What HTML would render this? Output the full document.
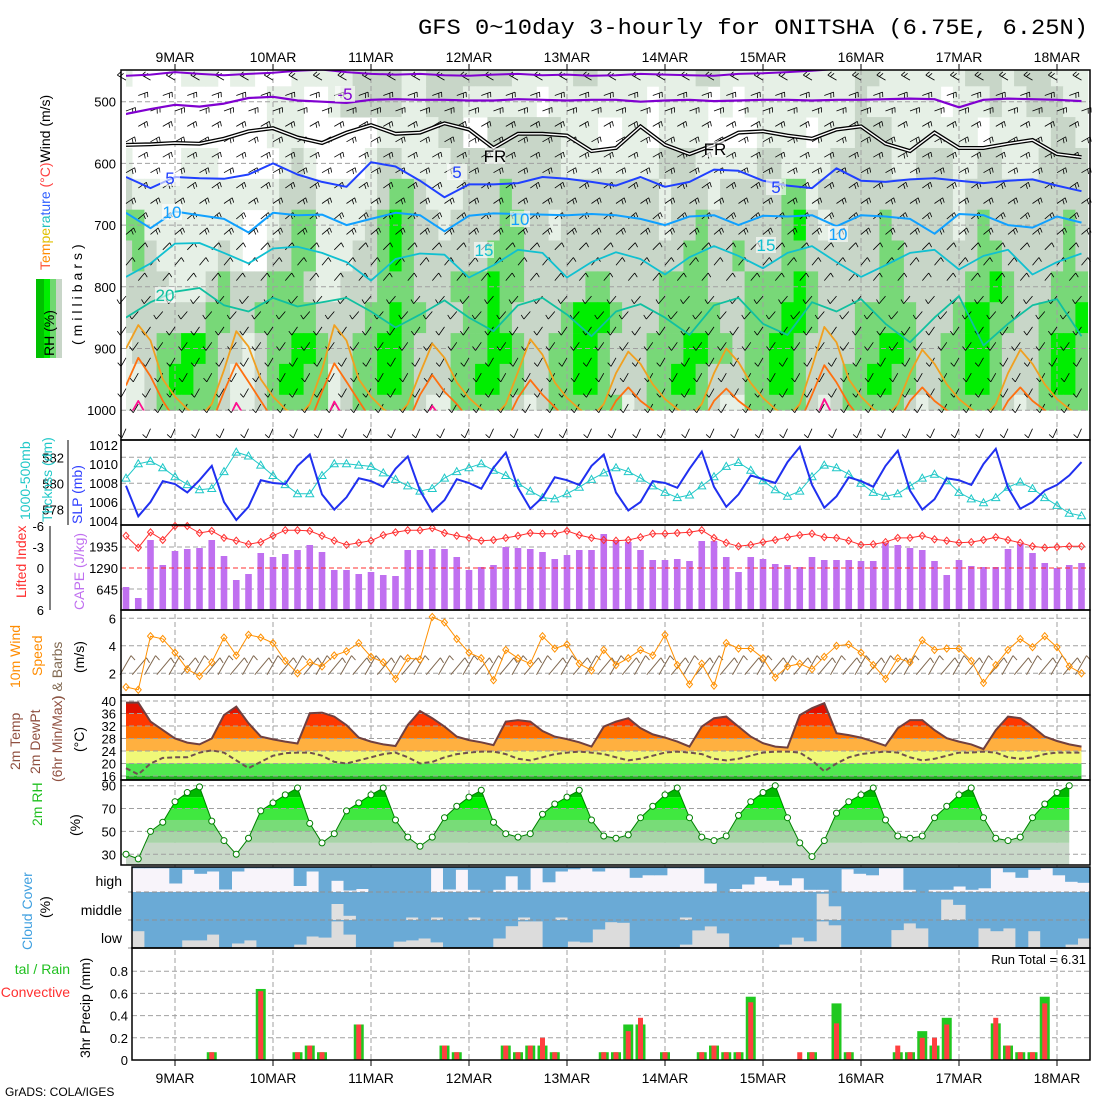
<!DOCTYPE html>
<html><head><meta charset="utf-8"><style>
html,body{margin:0;padding:0;background:#fff;}
svg{display:block;font-family:"Liberation Sans",sans-serif;}
</style></head><body>
<svg id="chart" xmlns="http://www.w3.org/2000/svg" width="1100" height="1100" viewBox="0 0 1100 1100">
<rect x="0" y="0" width="1100" height="1100" fill="#fff"/>
<text x="1088" y="34" text-anchor="end" font-family="Liberation Mono, monospace" font-size="22" textLength="670" lengthAdjust="spacingAndGlyphs">GFS 0~10day 3-hourly for ONITSHA (6.75E, 6.25N)</text>
<text x="5" y="1096" font-size="12">GrADS: COLA/IGES</text>
<g id="layer"></g>
<g font-size="13">
<text transform="translate(50,270) rotate(-90)" font-size="14"><tspan fill="#ff5030">T</tspan><tspan fill="#ff8c00">em</tspan><tspan fill="#e0c000">pe</tspan><tspan fill="#20c0c0">ra</tspan><tspan fill="#3060ff">ture</tspan><tspan fill="#ff4040"> (°C)</tspan><tspan fill="#000">Wind (m/s)</tspan></text>
<text transform="translate(82,345) rotate(-90)" font-size="14" letter-spacing="4">(millibars)</text>
<rect x="36" y="279" width="8" height="79" fill="#00c000"/>
<rect x="44" y="279" width="6" height="79" fill="#00ee00"/>
<rect x="50" y="279" width="6" height="79" fill="#70d870"/>
<rect x="56" y="279" width="6" height="79" fill="#c8d6c8"/>
<text transform="translate(54,356) rotate(-90)" font-size="14">RH (%)</text>
<text transform="translate(30,520) rotate(-90)" font-size="14" fill="#20c8c8">1000-500mb</text>
<text transform="translate(52,522) rotate(-90)" font-size="14" fill="#20c8c8">Thcknss (dm)</text>
<text transform="translate(82,524) rotate(-90)" font-size="14" fill="#3040ff">SLP (mb)</text>
<text transform="translate(26,598) rotate(-90)" font-size="14" fill="#ff3030">Lifted Index</text>
<text transform="translate(84,610) rotate(-90)" font-size="14" fill="#c070f0">CAPE (J/kg)</text>
<text transform="translate(20,688) rotate(-90)" font-size="14" fill="#ff8c00">10m Wind</text>
<text transform="translate(42,676) rotate(-90)" font-size="14" fill="#ff8c00">Speed</text>
<text transform="translate(62,700) rotate(-90)" font-size="14" fill="#806850">) &amp; Barbs</text>
<text transform="translate(84,673) rotate(-90)" font-size="14">(m/s)</text>
<text transform="translate(20,770) rotate(-90)" font-size="14" fill="#905040">2m Temp</text>
<text transform="translate(40,774) rotate(-90)" font-size="14" fill="#905040">2m DewPt</text>
<text transform="translate(62,782) rotate(-90)" font-size="14" fill="#905040">(6hr Min/Max)</text>
<text transform="translate(84,752) rotate(-90)" font-size="14">(°C)</text>
<text transform="translate(42,826) rotate(-90)" font-size="14" fill="#20c020">2m RH</text>
<text transform="translate(80,836) rotate(-90)" font-size="14">(%)</text>
<text transform="translate(32,950) rotate(-90)" font-size="14" fill="#40a0e0">Cloud Cover</text>
<text transform="translate(50,918) rotate(-90)" font-size="14">(%)</text>
<text x="122" y="886" text-anchor="end" font-size="14">high</text>
<text x="122" y="915" text-anchor="end" font-size="14">middle</text>
<text x="122" y="943" text-anchor="end" font-size="14">low</text>
<text x="70" y="974" text-anchor="end" font-size="14" fill="#20c020">tal / Rain</text>
<text x="70" y="997" text-anchor="end" font-size="14" fill="#ff3030">Convective</text>
<text transform="translate(90,1058) rotate(-90)" font-size="14">3hr Precip (mm)</text>
<text x="1086" y="964" text-anchor="end" font-size="13">Run Total = 6.31</text>
</g>
</svg>
<script>
// ---------- data ----------
const dayLabels=["9MAR","10MAR","11MAR","12MAR","13MAR","14MAR","15MAR","16MAR","17MAR","18MAR"];
const pressureTicks=[500,600,700,800,900,1000];
const slpTicks=[1004,1006,1008,1010,1012];
const thkTicks=[578,580,582];
const liTicks=[-6,-3,0,3,6];
const capeTicks=[645,1290,1935];
const windTicks=[2,4,6];
const tempTicks=[16,20,24,28,32,36,40];
const rhTicks=[30,50,70,90];
const precipTicks=[0,0.2,0.4,0.6,0.8];
const rhLevels=[450,500,550,600,650,700,750,800,850,900,950,1000];
const rhRows=[
"1"+"00001110"+"11000111"+"11222211"+"22222221"+"11112211"+"11111122"+"11111111"+"11122111"+"11112221"+"222111",
"0"+"00000000"+"00011100"+"12222211"+"22211111"+"10111111"+"11011110"+"10111111"+"11121111"+"11011121"+"122211",
"0"+"00000000"+"00011100"+"00001111"+"12200222"+"22211100"+"11011110"+"00011110"+"11122211"+"11111011"+"111221",
"1"+"00001110"+"00001210"+"00012211"+"11222222"+"22211111"+"11122211"+"11122111"+"12222211"+"22211221"+"112222",
"2"+"11111111"+"11112221"+"11112332"+"11122232"+"22222222"+"22212221"+"22222331"+"22222222"+"22212222"+"222222",
"3"+"31111111"+"10012331"+"11123432"+"21222233"+"22122222"+"22212232"+"22222342"+"12222322"+"22212322"+"222232",
"2"+"32111112"+"10022331"+"11223432"+"22222333"+"22222222"+"22222332"+"23222332"+"22222332"+"22222332"+"222232",
"2"+"22211123"+"22233321"+"12223332"+"22333433"+"22222332"+"22233332"+"22333343"+"22222332"+"22223343"+"222333",
"2"+"22222233"+"22333332"+"22233433"+"22233432"+"22234443"+"22233333"+"22333443"+"22233333"+"22234433"+"223334",
"1"+"22334432"+"21233443"+"22334432"+"22333443"+"22334432"+"22333443"+"32334432"+"22233443"+"22334432"+"223443",
"1"+"12344332"+"11234433"+"12334432"+"22334433"+"22334432"+"22334432"+"22334432"+"22334433"+"22334432"+"223443",
"1"+"12333332"+"11233333"+"12333332"+"11333332"+"12333333"+"12333332"+"11333332"+"12333332"+"12333332"+"123333"
];
const isoM10=[458,456,452,455,457,455,453,450,448,452,455,456,455,457,458,456,455,457,456,458,457,455,456,457,458,455,454,452,450,447,445,445,445,445,445,445,445,445,445,445];
const isoM5=[520,512,505,508,503,494,492,498,500,502,497,496,497,497,498,498,496,497,498,497,497,500,498,497,499,498,497,497,498,497,497,496,495,496,509,497,495,496,497,499];
const isoFR=[570,569,567,568,560,548,543,558,567,550,538,552,550,535,545,575,552,552,555,580,575,540,570,585,570,550,548,555,560,545,540,568,580,550,575,575,568,562,585,590];
const iso5=[622,640,622,624,625,618,600,618,630,638,598,605,628,655,634,634,632,622,625,630,636,622,638,630,610,612,628,636,640,608,628,630,626,624,628,632,628,626,636,645];
const iso10=[680,705,678,684,690,712,680,684,683,700,690,680,684,710,685,681,682,683,684,682,684,690,700,686,684,700,685,686,684,702,684,686,690,714,682,684,700,704,686,696];
const iso15=[784,762,730,729,745,762,738,735,745,760,790,755,746,748,785,765,740,745,785,760,744,755,780,752,734,750,770,745,734,760,784,765,745,740,772,750,740,780,760,746];
const iso20=[850,825,808,802,830,840,818,832,825,818,840,866,845,822,850,872,830,818,845,880,840,828,850,878,830,818,860,878,825,840,820,860,890,850,815,895,860,830,820,880];
const iso25=[900,
862,887,950,978,998,1012,990,935,
872,897,950,978,998,1012,990,935,
862,887,950,978,998,1012,990,940,
892,915,955,980,998,1012,990,938,
885,910,955,980,998,1012,990,940,
905,925,958,982,998,1012,990,940,
900,922,956,980,998,1012,990,930,
865,890,950,978,998,1012,990,940,
902,925,958,982,998,1012,990,940,
902,925,958,982,998,1012];
const iso30=[960,
915,945,985,1015,1030,1030,1020,970,
924,954,985,1015,1030,1030,1020,970,
924,954,985,1015,1030,1030,1020,975,
943,970,990,1015,1030,1030,1020,980,
951,975,995,1015,1030,1030,1020,985,
963,985,1000,1015,1030,1030,1020,985,
965,985,1000,1015,1030,1030,1020,975,
927,955,990,1015,1030,1030,1020,985,
963,985,1000,1015,1030,1030,1020,985,
963,985,1000,1015,1030,1030];
const iso35=[1020,
985,1020,1040,1040,1040,1040,1040,1030,
988,1020,1040,1040,1040,1040,1040,1030,
986,1020,1040,1040,1040,1040,1040,1030,
993,1020,1040,1040,1040,1040,1040,1040,
1040,1040,1040,1040,1040,1040,1040,1040,
1040,1040,1040,1040,1040,1040,1040,1040,
1040,1040,1040,1040,1040,1040,1040,1030,
982,1020,1040,1040,1040,1040,1040,1040,
1040,1040,1040,1040,1040,1040,1040,1040,
1040,1040,1040,1040,1040,1040];
const barbLevels=[465,490,515,540,565,590,615,640,665,690,715,740,765,790,815,840,865,890,915,940,965,990,1030];
const barbDirs=[300,70,70,60,60,60,60,55,55,50,50,45,40,40,220,220,215,215,210,210,210,210,205];
const barbFeathers=[2,2,2,2,2,2,2,2,2,2,2,1,1,1,1,1,1,1,1,1,1,1,1];
const thickness=[580.4,581.5,581.7,581.2,580.5,579.9,579.5,579.6,580.9,582.4,582.1,581.4,580.6,579.9,579.2,579.2,580.6,581.5,581.5,581.4,581.3,580.8,580.3,579.8,579.4,579.6,580.4,580.9,581.2,581.5,581.0,580.6,580.0,579.4,578.9,578.8,579.2,579.7,580.3,580.8,581.2,580.9,580.4,579.8,579.3,578.9,579.1,579.8,580.5,581.3,581.6,581.0,580.2,579.5,579.0,579.4,580.5,581.4,581.2,580.7,580.0,579.3,579.0,579.2,579.8,580.4,580.7,580.2,579.3,578.8,578.5,578.9,579.7,580.1,579.6,578.9,578.3,577.7,577.5];
const slp=[1007.7,1004.5,1006,1008.2,1007.9,1007,1008.3,1009.8,1006,1004.1,1005.5,1008.3,1008,1007.9,1009.8,1011,1006.8,1005.2,1006.5,1008.5,
1008.2,1007.6,1009.5,1010.8,1007.2,1005.0,1006.2,1008.4,
1008.0,1007.4,1009.6,1011.2,1007.5,1005.3,1006.5,1008.6,
1008.3,1007.8,1009.8,1011.0,1007.0,1005.1,1006.0,1008.2,
1008.0,1007.5,1009.5,1011.3,1007.6,1005.5,1006.8,1008.8,
1008.4,1008.0,1010.2,1011.8,1007.8,1005.4,1006.6,1008.6,
1008.2,1007.6,1009.8,1011.4,1007.2,1005.2,1006.3,1008.5,
1008.3,1007.8,1010.0,1011.6,1007.5,1005.3,1006.0,1007.2,
1007.8,1008.8,1010.2];
const cape=[720,390,2130,1380,1800,1860,1890,2130,1650,930,1110,1740,1620,1710,1830,1980,1770,1230,1230,1110,1170,1080,1050,1830,1830,1860,1860,1620,1230,1320,1380,1920,1890,1860,1770,1560,1680,1830,1830,2310,2100,2070,1830,1530,1530,1560,1500,2100,2100,1620,1170,1620,1560,1410,1380,1320,1620,1530,1530,1530,1500,1500,2040,1980,1890,1830,1500,1080,1530,1350,1320,1320,1860,2010,1740,1440,1290,1380,1440];
const liftedIndex=[-4.6,-2.9,-5.1,-4,-6,-6,-5,-5.3,-4.3,-3.9,-3.4,-3.7,-4.6,-5.4,-5.4,-5.3,-4.6,-3.9,-3.3,-3.6,-3.9,-4.7,-5.1,-5.4,-5.4,-5.7,-5,-4.6,-4.3,-3.9,-4,-4.3,-4.6,-5,-4.9,-4.9,-5.3,-4.7,-4.3,-4,-3.9,-4,-4.4,-4.9,-4.9,-5,-5.1,-5.4,-4.3,-3.6,-3.1,-3.3,-3.7,-4,-4.4,-4.7,-4.9,-4.4,-4.3,-3.9,-3.3,-3.4,-3.7,-4.3,-4.3,-4.6,-4.1,-3.9,-3.6,-3.7,-4,-4.4,-4,-3.6,-3.1,-2.9,-3,-3.1,-3.1];
const windSpeed=[1.0,0.8,4.7,4.5,3.5,2.3,1.8,2.8,4.6,3.3,4.8,4.6,4.2,2.9,2.0,2.8,2.5,3.3,3.6,
4.2,3.2,2.8,1.6,3.1,3.0,6.1,5.7,4.5,3.5,3.1,1.5,3.7,3.1,2.7,4.7,3.8,4.1,2.7,2.2,3.7,2.6,3.1,3.7,3.3,4.8,2.6,1.2,2.7,1.1,4.2,3.8,3.8,3.1,1.7,2.5,2.7,2.3,3.2,4.0,4.1,3.5,2.6,1.6,3.1,2.8,4.4,3.7,3.8,3.8,2.9,1.3,2.6,3.7,4.5,3.9,4.7,3.9,2.5,2.0];
const windDir10=[30,40];
const temp2m=[39.5,39.5,33.4,30.7,28,26.7,26.1,28,35.5,38.2,32.9,28.6,27.7,27,26.4,36.1,36.3,35,32.3,
28.3,27,26.1,25.6,32.3,36.8,34.5,31.8,28.6,27.5,26.8,25.9,33.4,33.9,33.4,30.4,28.6,27.8,26.8,25.4,31.8,33.4,34.5,31.3,29.3,28.3,27,25.4,31.8,34.5,35,31.8,28.6,26.5,25.4,25.1,35.5,37.7,39.3,29.7,29.1,28.3,27,25.7,31.3,33.9,33.9,30.7,28.1,27,26.1,24.6,30.7,35,34.5,31.8,28.6,27.2,26.1,25.4];
const dew2m=[18.5,16.5,20,21.8,22,22,23.5,24.2,23.5,21,18.5,20.5,22.5,23.3,23.5,23.5,22.5,20.5,20,21,
22,23,23.5,22,20,20.5,22,23,23.5,23.8,23.8,23,21.5,21,22,23,23.5,23.8,23.5,23,22,21,21.5,22.5,23.5,23.8,23.5,23,21.5,21,21.5,22.5,23.5,23.8,23.8,23.5,21,17.5,20,22,23,23.5,23.8,23.5,22,21,21.5,22.5,23.5,23.5,23.8,23.5,22,21.5,22,23,23.5,23.5,23.5];
const rh2m=[30,26,50,58,76,84,89,59,42,30,44,68,75,82,88,57,
40,48,68,75,82,88,60,45,
37,45,62,72,80,86,58,48,
45,48,65,74,80,86,60,46,
44,47,62,72,82,88,62,45,
42,46,64,76,84,90,62,40,
28,42,66,76,82,88,60,46,
44,46,62,72,82,88,62,44,
42,45,62,74,84,90];
const cloudHigh=[5,5,5,66,11,27,18,90,18,5,5,5,5,76,18,100,55,94,88,100,100,100,100,100,5,90,11,91,100,91,37,91,5,61,18,9,5,18,5,5,43,33,33,5,5,5,66,100,88,70,39,55,73,45,91,91,100,9,27,33,5,5,91,100,91,91,78,91,85,5,21,43,11,5,33,59,63];
const cloudMid=[100,100,100,100,100,100,100,100,100,100,100,100,100,100,100,100,43,85,100,100,100,100,91,100,91,100,100,91,100,100,100,91,100,100,91,100,100,100,100,100,100,100,100,100,91,100,100,100,100,100,100,100,100,100,100,6,51,100,100,100,100,100,100,100,100,27,46,100,100,100,100,100,100,100,100,100,100];
const cloudLow=[40,100,100,100,73,73,52,100,84,73,100,100,100,88,59,63,5,52,100,100,100,77,73,66,80,100,100,100,100,66,22,5,5,100,100,77,80,34,8,10,100,100,100,100,88,37,23,48,100,100,100,100,88,63,76,5,19,100,100,100,100,36,12,30,100,100,100,100,30,40,30,100,40,100,100,88,66];
const precipTotal=[0,0,0,0,0,0,0,0.07,0,0,0,0.64,0,0,0.07,0.13,0.07,0,0,0.32,0,0,0,0,0,0,0.13,0.07,0,0,0,0.13,0.07,0.13,0.13,0.07,0,0,0,0.07,0.07,0.32,0.32,0,0.07,0,0,0.07,0.13,0.07,0.07,0.57,0,0,0,0,0.07,0,0.51,0.07,0,0,0,0.07,0.07,0.26,0.13,0.38,0,0,0,0.33,0.13,0.07,0.07,0.57,0,0,0];
const precipConv=[0,0,0,0,0,0,0,0.07,0,0,0,0.62,0,0,0.07,0.13,0.07,0,0,0.32,0,0,0,0,0,0,0.13,0.07,0,0,0,0.13,0.07,0.13,0.2,0.07,0,0,0,0.07,0.07,0.26,0.38,0,0.07,0,0,0.07,0.13,0.07,0.07,0.52,0,0,0,0.07,0.07,0,0.33,0.07,0,0,0,0.13,0.07,0.2,0.2,0.32,0,0,0,0.38,0.13,0.07,0.07,0.51,0,0,0];

// ---------- axes ----------
const NS="http://www.w3.org/2000/svg";
const L=document.getElementById('layer');
const X0=126, DX=12.25;
const X=i=>X0+DX*i;
const dayX=d=>X(4+8*d);
const yP=p=>101.7+(p-500)*0.617;
const ySlp=v=>521-(v-1004)*9.5;
const yThk=v=>509.3-(v-578)*13;
const yCape=v=>611-v/30;
const yLI=v=>568+v*7;
const yWind=v=>700.8-v*13.75;
const yT=v=>701+(40-v)*3.125;
const yRH=v=>785.7+(90-v)*1.143;
const yPr=v=>1060-v*111;
function mk(tag,a,parent){const e=document.createElementNS(NS,tag);for(const k in a)e.setAttribute(k,a[k]);(parent||L).appendChild(e);return e;}
function pts(arr,fy,step){return arr.map((v,k)=>X(k*(step||1)).toFixed(1)+','+fy(v).toFixed(1)).join(' ');}

const defs=mk('defs',{});


const cp1=mk('clipPath',{id:'cpTop'},defs);


const cr=mk('rect',{x:126,y:70,width:964,height:340.5},cp1);



// ---------- top panel RH field ----------
const rhColors=['#ffffff','#e6f0e6','#c8d6c8','#78d878','#00ee00'];
rhRows.forEach((row,r)=>{
  const p=rhLevels[r];
  const y1=Math.max(70,yP(p-25)), y2=Math.min(410.2,yP(p+25));
  for(let i=0;i<row.length;i++){
    const c=+row[i]; if(c===0) continue;
    const x1=Math.max(126,X(i)-DX/2), x2=Math.min(1090,X(i)+DX/2);
    const cell=mk('rect',{x:x1.toFixed(1),y:y1.toFixed(1),width:(x2-x1+0.4).toFixed(1),height:(y2-y1+0.4).toFixed(1),fill:rhColors[c]});
    
    
  }
});

pressureTicks.forEach(p=>{
  const g=mk('line',{x1:121,x2:1090,y1:yP(p),y2:yP(p),stroke:'#a0a0a0','stroke-dasharray':'5,3'});
  
  
  const t=mk('text',{x:116,y:yP(p)+5,'text-anchor':'end','font-size':13});
  t.textContent=p;
  
  
});
dayLabels.forEach((lab,d)=>{
  const x=dayX(d);
  const g=mk('line',{x1:x,x2:x,y1:70,y2:1060,stroke:'#a0a0a0','stroke-dasharray':'5,3'});
  
  
  const t=mk('text',{x:x,y:62,'text-anchor':'middle','font-size':14});
  t.textContent=lab;
  
  
  const t2=mk('text',{x:x,y:1083,'text-anchor':'middle','font-size':14});
  t2.textContent=lab;
  
  
  const tk=mk('line',{x1:x,x2:x,y1:64,y2:70,stroke:'#000'});
  
  
  const tk2=mk('line',{x1:x,x2:x,y1:1060,y2:1066,stroke:'#000'});
  
  
});

function barb(x,y,dir,nf,len,flen,color,name,w){
  const r=dir*Math.PI/180, ux=Math.sin(r), uy=-Math.cos(r);
  const ex=x+ux*len, ey=y+uy*len;
  let d=`M${x.toFixed(1)},${y.toFixed(1)}L${ex.toFixed(1)},${ey.toFixed(1)}`;
  const fr=r+Math.PI*0.6, fx=Math.sin(fr)*flen, fy=-Math.cos(fr)*flen;
  for(let f=0;f<nf;f++){const bx=ex-ux*f*3, by=ey-uy*f*3;d+=`M${bx.toFixed(1)},${by.toFixed(1)}l${fx.toFixed(1)},${fy.toFixed(1)}`;}
  const p=mk('path',{d:d,stroke:color,'stroke-width':w||0.8,fill:'none'});
  
  
}
// upper wind barbs: every 6h, staggered rows
barbLevels.forEach((lv,r)=>{
  for(let i=(r%2);i<79;i+=2) barb(X(i),yP(lv),barbDirs[r],barbFeathers[r],10,5,'#000','upper-wind-barb');
});

// isotherms
const isoSpec=[[isoM10,'#8000d0',2,2],[isoM5,'#8000d0',2.2,2],[iso5,'#2040ff',2,2],[iso10,'#10a0ff',2,2],[iso15,'#10c0d0',1.8,2],[iso20,'#10c0a0',1.8,2],[iso25,'#f0a020',1.8,1],[iso30,'#ff7010',1.8,1],[iso35,'#ff1090',1.8,1]];
isoSpec.forEach(s=>{
  const pl=mk('polyline',{points:pts(s[0],yP,s[3]),fill:'none',stroke:s[1],'stroke-width':s[2],'clip-path':'url(#cpTop)','stroke-linejoin':'round'});
  
  
});
const fr1=mk('polyline',{points:pts(isoFR,yP,2),fill:'none',stroke:'#000','stroke-width':4,'clip-path':'url(#cpTop)'});


const fr2=mk('polyline',{points:pts(isoFR,yP,2),fill:'none',stroke:'#fff','stroke-width':1.4,'clip-path':'url(#cpTop)'});



[["-5",345,100,'#8000d0'],["5",170,184,'#2040ff'],["5",457,178,'#2040ff'],["5",776,193,'#2040ff'],["10",172,218,'#10a0ff'],["10",520,225,'#10a0ff'],["10",838,240,'#10a0ff'],["15",484,256,'#10c0d0'],["15",766,251,'#10c0d0'],["20",165,301,'#10c0a0'],["FR",495,162,'#000'],["FR",715,155,'#000']].forEach(c=>{
  const bg=mk('rect',{x:c[1]-10,y:c[2]-14,width:20,height:16,fill:'#fff','fill-opacity':0.6});
  
  
  const t=mk('text',{x:c[1],y:c[2],'text-anchor':'middle','font-size':17,fill:c[3]});
  t.textContent=c[0];
  
  
});

// ---------- panel 2 ----------
thkTicks.forEach(v=>{
  const g=mk('line',{x1:121,x2:1090,y1:yThk(v),y2:yThk(v),stroke:'#a0a0a0','stroke-dasharray':'5,3'});
  
  
  const t=mk('text',{x:64,y:yThk(v)+5,'text-anchor':'end','font-size':13});
  t.textContent=v;
  
  
});
slpTicks.forEach(v=>{
  const t=mk('text',{x:118,y:ySlp(v)+5,'text-anchor':'end','font-size':13});
  t.textContent=v;
  
  
});
const thkLine=mk('polyline',{points:pts(thickness,yThk),fill:'none',stroke:'#20c8c8','stroke-width':1});


thickness.forEach((v,i)=>{
  const x=X(i),y=yThk(v);
  const m=mk('polygon',{points:`${x},${y-4} ${x-4},${y+3} ${x+4},${y+3}`,fill:'none',stroke:'#20c8c8'});
  
  
});
const slpLine=mk('polyline',{points:pts(slp,ySlp),fill:'none',stroke:'#2030f0','stroke-width':2});



// ---------- panel 3 ----------
[-3,3].forEach(v=>{
  const g=mk('line',{x1:121,x2:1090,y1:yLI(v),y2:yLI(v),stroke:'#a0a0a0','stroke-dasharray':'5,3'});
  
  
});
cape.forEach((v,i)=>{
  const b=mk('rect',{x:X(i)-3.3,y:yCape(v),width:6.6,height:610-yCape(v),fill:'#c070f0'});
  
  
});
const li0=mk('line',{x1:121,x2:1090,y1:yLI(0),y2:yLI(0),stroke:'#ff3030','stroke-dasharray':'5,3'});


const liLine=mk('polyline',{points:pts(liftedIndex.map(v=>Math.max(-6,v)),yLI),fill:'none',stroke:'#ff3030','stroke-width':1});


liftedIndex.forEach((v,i)=>{
  const x=X(i),y=yLI(Math.max(-6,v));
  const m=mk('polygon',{points:`${x},${y-3.5} ${x+3},${y} ${x},${y+3.5} ${x-3},${y}`,fill:'none',stroke:'#ff3030'});
  
  
});
liTicks.forEach(v=>{
  const t=mk('text',{x:44,y:yLI(v)+5,'text-anchor':'end','font-size':13});
  t.textContent=v;
  
  
});
const liAx=mk('line',{x1:50,x2:50,y1:526,y2:610,stroke:'#000'});


capeTicks.forEach(v=>{
  const t=mk('text',{x:118,y:yCape(v)+5,'text-anchor':'end','font-size':13});
  t.textContent=v;
  
  
});

// ---------- panel 4 ----------
windTicks.forEach(v=>{
  const g=mk('line',{x1:121,x2:1090,y1:yWind(v),y2:yWind(v),stroke:'#a0a0a0','stroke-dasharray':'5,3'});
  
  
  const t=mk('text',{x:116,y:yWind(v)+5,'text-anchor':'end','font-size':13});
  t.textContent=v;
  
  
});
windSpeed.forEach((v,i)=>{ barb(X(i)-6,yWind(1.9),windDir10[i%2],1,22,6,'#806850','surface-wind-barb',1); });
const wl=mk('polyline',{points:pts(windSpeed,yWind),fill:'none',stroke:'#ff9000','stroke-width':1});


windSpeed.forEach((v,i)=>{
  const x=X(i),y=yWind(v);
  const m=mk('polygon',{points:`${x},${y-3.5} ${x+3},${y} ${x},${y+3.5} ${x-3},${y}`,fill:'none',stroke:'#ff9000'});
  
  
});

// ---------- panel 5 ----------
const cpT=mk('clipPath',{id:'cpT'},defs);


const tpoly=mk('polygon',{points:X(0)+',780 '+pts(temp2m,yT)+' '+X(temp2m.length-1)+',780'},cpT);


const tBands=[[0,16,'#20b020'],[16,20,'#50e850'],[20,24,'#f0f878'],[24,28,'#ffb040'],[28,32,'#ff7000'],[32,36,'#ff3800'],[36,40,'#e01000'],[40,50,'#a00000']];
tBands.forEach(b=>{
  const y1=Math.max(695,yT(b[1])), y2=Math.min(780,yT(b[0]));
  const r=mk('rect',{x:121,y:y1,width:969,height:y2-y1,fill:b[2],'clip-path':'url(#cpT)'});
  
  
});
tempTicks.forEach(v=>{
  const g=mk('line',{x1:121,x2:1090,y1:yT(v),y2:yT(v),stroke:'#a0a0a0','stroke-dasharray':'5,3'});
  
  
  const t=mk('text',{x:116,y:yT(v)+5,'text-anchor':'end','font-size':13});
  t.textContent=v;
  
  
});
const tl=mk('polyline',{points:pts(temp2m,yT),fill:'none',stroke:'#704040','stroke-width':2});


const dl=mk('polyline',{points:pts(dew2m,yT),fill:'none',stroke:'#705050','stroke-width':2,'stroke-dasharray':'5,3'});



// ---------- panel 6 ----------
const cpR=mk('clipPath',{id:'cpR'},defs);


const rpoly=mk('polygon',{points:X(0)+',865 '+pts(rh2m,yRH)+' '+X(rh2m.length-1)+',865'},cpR);


const rBands=[[0,40,'#c8d8c8'],[40,50,'#a8d4a8'],[50,60,'#78dc78'],[60,70,'#40e840'],[70,80,'#00f000'],[80,90,'#00b800'],[90,110,'#009000']];
rBands.forEach(b=>{
  const y1=Math.max(780,yRH(b[1])), y2=Math.min(865,yRH(b[0]));
  const r=mk('rect',{x:121,y:y1,width:969,height:y2-y1,fill:b[2],'clip-path':'url(#cpR)'});
  
  
});
rhTicks.forEach(v=>{
  const g=mk('line',{x1:121,x2:1090,y1:yRH(v),y2:yRH(v),stroke:'#a0a0a0','stroke-dasharray':'5,3'});
  
  
  const t=mk('text',{x:116,y:yRH(v)+5,'text-anchor':'end','font-size':13});
  t.textContent=v;
  
  
});
const rl=mk('polyline',{points:pts(rh2m,yRH),fill:'none',stroke:'#008000','stroke-width':1});


rh2m.forEach((v,i)=>{
  const c=mk('circle',{cx:X(i),cy:yRH(v),r:3,fill:'#fff',stroke:'#008000'});
  
  
});

// ---------- panel 7 ----------
const cx0=132, cw=(1090-132)/cloudHigh.length;
[[cloudHigh,867,892,'#f8f4fa'],[cloudMid,892,920,'#e0e0e0'],[cloudLow,920,948,'#dcdcdc']].forEach(s=>{
  const bg=mk('rect',{x:cx0,y:s[1],width:958,height:s[2]-s[1],fill:s[3]});
  
  
  s[0].forEach((v,k)=>{
    const h=(s[2]-s[1])*v/100;
    const r=mk('rect',{x:(cx0+k*cw).toFixed(1),y:s[1],width:(cw+0.5).toFixed(1),height:h.toFixed(1),fill:'#6aaad6'});
    
    
  });
});
[892,920,948].forEach(y=>{
  const g=mk('line',{x1:128,x2:1090,y1:y,y2:y,stroke:'#909090','stroke-dasharray':'5,3'});
  
  
});

// ---------- panel 8 ----------
precipTicks.forEach(v=>{
  if(v>0){const g=mk('line',{x1:132,x2:1090,y1:yPr(v),y2:yPr(v),stroke:'#a0a0a0','stroke-dasharray':'5,3'});
  
  }
  const t=mk('text',{x:128,y:yPr(v)+5,'text-anchor':'end','font-size':13});
  t.textContent=String(v);
  
  
});
precipTotal.forEach((v,i)=>{
  if(v<=0) return;
  const b=mk('rect',{x:X(i)-5,y:yPr(v),width:10,height:1060-yPr(v),fill:'#20c820'});
  
  
});
precipConv.forEach((v,i)=>{
  if(v<=0) return;
  const b=mk('rect',{x:X(i)-2.5,y:yPr(v),width:5,height:1060-yPr(v),fill:'#ff4040'});
  
  
});

// ---------- frames ----------
[[121,70,969,370,'upper-air-frame'],[121,440,969,85,'slp-frame'],[121,525,969,85,'cape-frame'],[121,610,969,85,'wind-frame'],[121,695,969,85,'temp-frame'],[121,780,969,85,'rh-frame'],[132,867,958,81,'cloud-frame'],[132,948,958,112,'precip-frame']].forEach(f=>{
  const r=mk('rect',{x:f[0],y:f[1],width:f[2],height:f[3],fill:'none',stroke:'#000','stroke-width':1.5});
  
  
});
const thkAx=mk('line',{x1:68,x2:68,y1:440,y2:525,stroke:'#000'});


</script>
</body></html>
